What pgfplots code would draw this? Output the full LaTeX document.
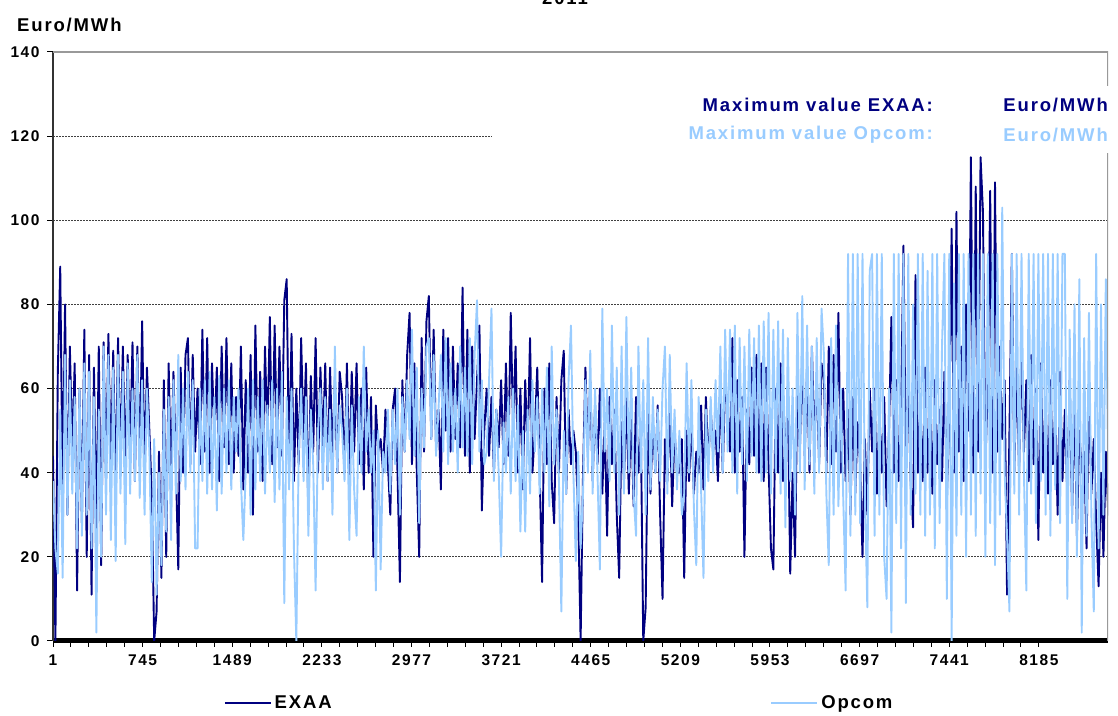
\documentclass[border=0pt]{standalone}
\usepackage{fontspec}
\setmainfont{Liberation Sans}
\newfontfamily\spaced{Liberation Sans}[LetterSpace=10]
\usepackage{pgfplots}
\usepackage{pgfplotstable}
\pgfplotsset{compat=1.18}

\definecolor{exaa}{RGB}{0,0,128}
\definecolor{opcom}{RGB}{153,204,255}
\newcommand\bigtxt{\spaced\bfseries\fontsize{18.5bp}{20bp}\selectfont}
\newcommand\ticktxt{\spaced\bfseries\fontsize{15.5bp}{16bp}\selectfont}

% Hourly prices 2011 (Euro/MWh), one value every 20 hours starting at hour 1
\pgfplotstableread[row sep=\\,header=false]{
44\\0\\64\\89\\35\\80\\30\\70\\45\\66\\12\\60\\28\\74\\20\\68\\11\\65\\25\\70\\
18\\71\\38\\73\\40\\69\\35\\72\\42\\70\\40\\68\\45\\71\\38\\70\\42\\76\\40\\65\\
50\\35\\0\\7\\45\\15\\62\\20\\66\\38\\64\\42\\17\\65\\40\\68\\72\\42\\68\\45\\
60\\42\\74\\45\\72\\40\\66\\48\\65\\38\\70\\46\\72\\42\\66\\40\\58\\44\\70\\36\\
62\\40\\68\\30\\75\\45\\64\\38\\70\\48\\77\\42\\75\\46\\70\\44\\81\\86\\40\\73\\
38\\60\\42\\72\\48\\66\\30\\63\\45\\72\\40\\65\\46\\66\\38\\65\\44\\62\\40\\64\\
58\\40\\66\\38\\64\\45\\66\\42\\60\\36\\65\\40\\58\\20\\56\\45\\48\\40\\55\\42\\
30\\55\\60\\40\\14\\62\\45\\68\\78\\42\\66\\40\\20\\72\\45\\76\\82\\48\\74\\46\\
55\\36\\74\\50\\72\\45\\70\\48\\66\\46\\84\\44\\74\\40\\70\\48\\62\\75\\31\\50\\
60\\44\\58\\40\\55\\46\\62\\42\\66\\44\\78\\50\\70\\40\\60\\36\\62\\45\\72\\40\\
50\\65\\40\\14\\60\\42\\66\\38\\28\\58\\40\\62\\69\\35\\55\\42\\50\\45\\30\\0\\
40\\65\\45\\62\\38\\56\\42\\60\\35\\52\\25\\58\\42\\55\\30\\15\\52\\38\\58\\35\\
55\\32\\58\\40\\50\\0\\8\\55\\35\\52\\40\\56\\30\\10\\48\\38\\55\\32\\50\\40\\
40\\48\\15\\50\\38\\52\\35\\45\\40\\56\\36\\58\\42\\55\\45\\50\\38\\60\\40\\62\\
55\\45\\72\\40\\62\\45\\58\\20\\55\\42\\65\\44\\68\\40\\66\\38\\65\\42\\22\\17\\
60\\40\\66\\38\\45\\58\\16\\40\\20\\62\\45\\68\\44\\65\\40\\70\\48\\62\\42\\66\\
62\\40\\70\\42\\68\\45\\78\\40\\60\\38\\55\\30\\58\\35\\52\\42\\20\\48\\30\\60\\
45\\60\\35\\55\\40\\58\\32\\50\\77\\40\\62\\38\\55\\94\\42\\60\\38\\27\\87\\40\\
55\\38\\65\\40\\58\\35\\62\\42\\55\\38\\64\\35\\50\\98\\40\\102\\45\\70\\38\\80\\
50\\115\\40\\108\\45\\115\\102\\42\\60\\107\\40\\109\\45\\70\\48\\62\\11\\50\\92\\40\\
65\\40\\70\\45\\62\\38\\68\\42\\60\\24\\66\\40\\58\\35\\62\\42\\55\\30\\64\\38\\
55\\35\\62\\30\\58\\25\\50\\40\\45\\22\\60\\35\\48\\28\\13\\40\\20\\45\\30\\40\\
}\exaatable

\pgfplotstableread[row sep=\\,header=false]{
38\\22\\16\\55\\15\\68\\30\\62\\35\\58\\22\\60\\25\\66\\30\\64\\22\\58\\2\\55\\
20\\70\\30\\68\\24\\65\\19\\68\\35\\64\\23\\66\\35\\60\\38\\68\\34\\62\\30\\60\\
45\\14\\48\\11\\40\\18\\55\\26\\58\\24\\62\\35\\68\\38\\60\\36\\64\\40\\62\\22\\
22\\60\\38\\62\\35\\64\\36\\58\\31\\63\\35\\60\\40\\62\\36\\58\\45\\60\\38\\24\\
40\\60\\30\\62\\36\\58\\38\\62\\35\\56\\40\\62\\33\\60\\36\\64\\9\\58\\36\\60\\
22\\0\\45\\60\\38\\58\\25\\55\\42\\12\\50\\60\\36\\58\\38\\55\\30\\70\\40\\56\\
50\\38\\60\\24\\56\\36\\25\\58\\40\\70\\45\\55\\40\\50\\12\\50\\17\\45\\40\\55\\
35\\55\\42\\60\\30\\58\\45\\62\\48\\74\\44\\65\\28\\60\\46\\70\\72\\48\\68\\44\\
55\\68\\45\\72\\42\\66\\45\\60\\40\\70\\46\\65\\44\\72\\42\\68\\81\\45\\62\\42\\
45\\62\\79\\38\\55\\40\\20\\52\\40\\58\\35\\60\\38\\56\\26\\50\\26\\55\\35\\62\\
45\\58\\35\\60\\40\\65\\32\\70\\42\\55\\38\\7\\50\\35\\62\\75\\40\\19\\45\\22\\
35\\62\\40\\69\\35\\60\\40\\17\\79\\45\\60\\38\\75\\40\\65\\30\\70\\35\\77\\40\\
65\\35\\25\\70\\40\\62\\30\\72\\36\\58\\40\\55\\38\\60\\70\\35\\68\\40\\55\\36\\
50\\30\\35\\66\\40\\62\\32\\18\\58\\36\\15\\55\\38\\58\\40\\62\\45\\70\\40\\74\\
45\\74\\40\\75\\35\\72\\42\\70\\38\\74\\44\\72\\40\\75\\38\\76\\40\\78\\35\\74\\
40\\76\\35\\74\\27\\72\\38\\60\\30\\78\\40\\82\\36\\75\\42\\70\\35\\72\\40\\79\\
68\\35\\18\\72\\30\\75\\32\\60\\34\\12\\92\\25\\92\\30\\92\\28\\92\\35\\8\\88\\
92\\25\\92\\30\\92\\20\\10\\60\\2\\92\\28\\92\\22\\92\\9\\92\\30\\80\\35\\92\\
30\\92\\25\\88\\30\\92\\22\\92\\28\\70\\92\\10\\92\\0\\85\\25\\92\\30\\92\\20\\
92\\30\\92\\25\\92\\35\\92\\20\\92\\28\\92\\18\\92\\30\\103\\40\\25\\7\\92\\35\\
92\\30\\92\\40\\12\\92\\35\\92\\28\\92\\38\\92\\30\\92\\25\\92\\36\\92\\28\\92\\
92\\10\\74\\28\\80\\20\\86\\2\\72\\25\\78\\30\\7\\92\\22\\80\\30\\86\\40\\75\\
}\opcomtable

\begin{document}
\begin{tikzpicture}[x=1bp,y=1bp]
\begin{axis}[
  at={(53bp,75bp)}, anchor=south west,
  scale only axis, width=1055bp, height=589bp,
  xmin=1, xmax=8760, ymin=0, ymax=140,
  axis x line*=bottom, axis y line*=left,
  x axis line style={line width=5bp, black},
  y axis line style={line width=2bp, black!80},
  xtick={1,745,1489,2233,2977,3721,4465,5209,5953,6697,7441,8185},
  xticklabels={1,745,1489,2233,2977,3721,4465,5209,5953,6697,7441,8185},
  minor x tick num=4,
  ytick={0,20,40,60,80,100,120,140},
  yticklabels={0,20,40,60,80,100,120,140},
  tick align=outside,
  major tick length=6bp, minor tick length=6bp,
  every tick/.style={black, line width=1bp},
  ymajorgrids,
  grid style={black!75, line width=0.9bp, dash pattern=on 1.5bp off 1.5bp},
  tick label style={font=\ticktxt},
  xticklabel style={yshift=-4bp},
  yticklabel style={xshift=-4bp},
  legend columns=2,
  legend cell align=left,
  legend style={at={(axis description cs:0.162,-0.105)}, anchor=west,
    draw=none, fill=none, inner sep=0pt, font=\bigtxt,
    nodes={inner sep=3bp},
    /tikz/every even column/.append style={column sep=436bp}},
  legend image code/.code={\draw[#1, line width=1.6bp] (0bp,0bp) -- (46bp,0bp);},
  every axis plot/.append style={line width=1.9bp, line join=round},
]
\addplot[exaa, no markers] table[x expr={1+20*\coordindex}, y index=0] {\exaatable};
\addlegendentry{EXAA}
\addplot[opcom, no markers] table[x expr={1+20*\coordindex}, y index=0] {\opcomtable};
\addlegendentry{Opcom}
\draw[black!40, line width=2bp] (rel axis cs:0,1) -- (rel axis cs:1,1) -- (rel axis cs:1,0);
\end{axis}

% white panel behind the maximum-value notes
\fill[white] (492,563) rectangle (1112,630);
\node[anchor=east, inner sep=0, text=exaa, font=\bigtxt] at (933,611) {Maximum value EXAA:};
\node[anchor=east, inner sep=0, text=exaa, font=\bigtxt] at (1108,611) {Euro/MWh};
\node[anchor=east, inner sep=0, text=opcom, font=\bigtxt] at (933,581) {Maximum value Opcom:};
\node[anchor=east, inner sep=0, text=opcom, font=\bigtxt] at (1108,581) {Euro/MWh};

\node[anchor=west, inner sep=0, font=\bigtxt] at (17,691) {Euro/MWh};
\node[anchor=base, inner sep=0, font=\bigtxt] at (565,711) {2011};

\pgfresetboundingbox
\path[use as bounding box] (0,0) rectangle (1118,716);
\end{tikzpicture}
\end{document}
